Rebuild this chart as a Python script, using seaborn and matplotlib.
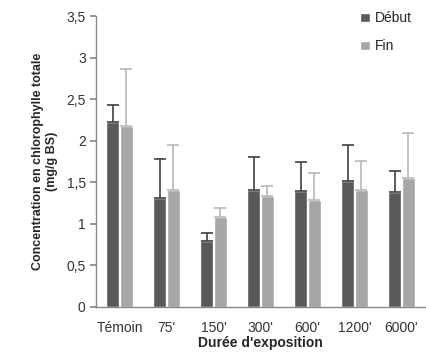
import numpy as np
import pandas as pd
import seaborn as sns
from matplotlib import pyplot as plt

# valeurs
durees = ["Témoin", "75'", "150'", "300'", "600'", "1200'", "6000'"]
debut = [2.23, 1.31, 0.79, 1.41, 1.40, 1.52, 1.38]
debut_err = [0.20, 0.47, 0.10, 0.39, 0.35, 0.43, 0.26]
fin = [2.18, 1.41, 1.08, 1.34, 1.29, 1.41, 1.55]
fin_err = [0.69, 0.54, 0.11, 0.12, 0.32, 0.35, 0.55]

sns.set_theme(style="white")
plt.rcParams['font.family'] = ['Liberation Sans', 'DejaVu Sans']

df = pd.DataFrame({
    "Durée": durees * 2,
    "Concentration": debut + fin,
    "Phase": ["Début"] * len(durees) + ["Fin"] * len(durees),
})

colors = {"Début": "#595959", "Fin": "#a6a6a6"}

fig, ax = plt.subplots(figsize=(4.27, 3.62), dpi=100)
sns.barplot(data=df, x="Durée", y="Concentration", hue="Phase", palette=colors,
            errorbar=None, width=0.58, gap=0.04, saturation=1, ax=ax)

# barres d'erreur (vers le haut seulement)
for cont, errs, col in zip(ax.containers, [debut_err, fin_err], ["#404040", "#b8b8b8"]):
    xs = [p.get_x() + p.get_width() / 2 for p in cont]
    ys = [p.get_height() for p in cont]
    ax.errorbar(xs, ys, yerr=[np.zeros(len(errs)), errs], fmt="none",
                ecolor=col, elinewidth=1.2, capsize=4, capthick=1.2)

ax.set_ylim(0, 3.5)
ax.set_xlim(-0.5, len(durees) - 0.5)
ax.set_yticks(np.arange(0, 3.51, 0.5))
ax.set_yticklabels(["0", "0,5", "1", "1,5", "2", "2,5", "3", "3,5"])
ax.set_xticks(np.arange(-0.5, len(durees), 1), minor=True)
ax.tick_params(axis="x", which="major", length=0, labelsize=10, pad=10, colors="#333333")
ax.tick_params(axis="x", which="minor", length=5, color="#888888", direction="out")
ax.tick_params(axis="y", length=4, labelsize=10, left=True, colors="#888888", labelcolor="#333333")

ax.set_xlabel("Durée d'exposition", fontweight="bold", fontsize=10, labelpad=1)
ax.set_ylabel("Concentration en chlorophylle totale\n(mg/g BS)", fontweight="bold",
              fontsize=9, labelpad=6)

for s in ["top", "right"]:
    ax.spines[s].set_visible(False)
for s in ["left", "bottom"]:
    ax.spines[s].set_color("#888888")
    ax.spines[s].set_linewidth(1)

ax.legend(title=None, frameon=False, loc="upper right", bbox_to_anchor=(1.0, 1.06),
          handlelength=0.7, handleheight=0.7, fontsize=10, labelspacing=1.0, handletextpad=0.4)

fig.subplots_adjust(left=0.225, right=0.995, top=0.955, bottom=0.152)
fig.savefig("out.png", dpi=100)
